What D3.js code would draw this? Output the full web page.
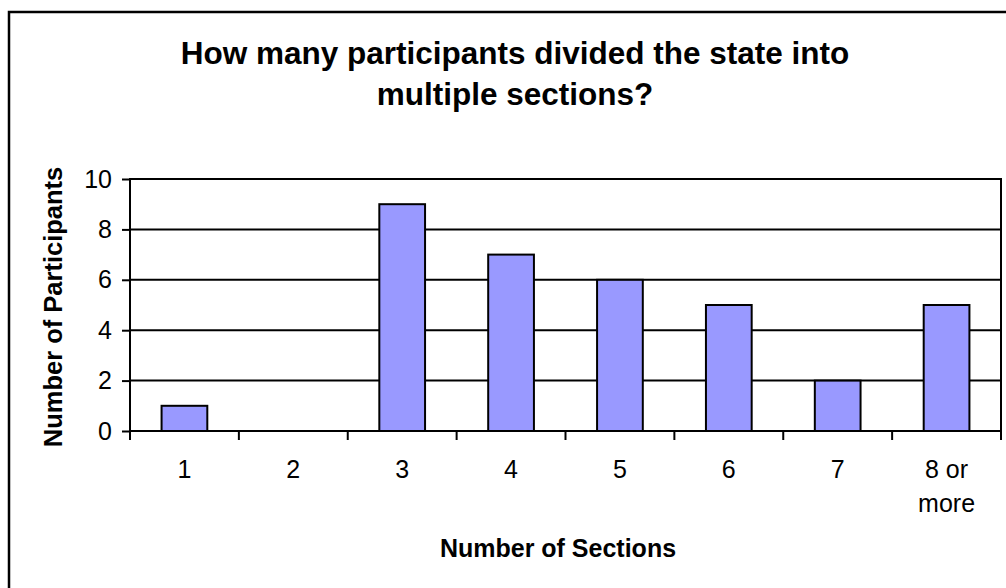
<!DOCTYPE html>
<html>
<head>
<meta charset="utf-8">
<script src="https://cdn.jsdelivr.net/npm/d3@7"></script>
<style>
  body { margin: 0; background: #fff; }
  text { font-family: "Liberation Sans", Arial, sans-serif; fill: #000; }
</style>
</head>
<body>
<script>
var w = 1006;
var h = 588;

// data
var categories = ["1", "2", "3", "4", "5", "6", "7", "8 or more"];
var participants = [1, 0, 9, 7, 6, 5, 2, 5];
var yTicks = [0, 2, 4, 6, 8, 10];
var titleLines = ["How many participants divided the state into", "multiple sections?"];

var plot = {left: 130, right: 1001, top: 179, bottom: 431};

var svg = d3.select("body")
            .append("svg")
            .attr("width", w)
            .attr("height", h);

// outer chart border (runs off the right / bottom edge)
svg.append("rect")
   .attr("x", 9).attr("y", 12)
   .attr("width", 1010).attr("height", 600)
   .attr("fill", "none")
   .attr("stroke", "#000")
   .attr("stroke-width", 2.5);

var x = d3.scaleBand()
          .domain(categories)
          .range([plot.left, plot.right])
          .padding(0);

var y = d3.scaleLinear()
          .domain([0, 10])
          .range([plot.bottom, plot.top]);

// gridlines
svg.selectAll("line.grid")
   .data(yTicks)
   .enter()
   .append("line")
   .attr("class", "grid")
   .attr("x1", plot.left).attr("x2", plot.right)
   .attr("y1", d => y(d)).attr("y2", d => y(d))
   .attr("stroke", "#000")
   .attr("stroke-width", 2);

// bars
var barW = x.bandwidth() * 0.42;
svg.selectAll("rect.bar")
   .data(participants)
   .enter()
   .append("rect")
   .attr("class", "bar")
   .attr("x", (d, i) => x(categories[i]) + (x.bandwidth() - barW) / 2)
   .attr("y", d => y(d))
   .attr("width", barW)
   .attr("height", d => plot.bottom - y(d))
   .attr("fill", d => d > 0 ? "#9999ff" : "none")
   .attr("stroke", d => d > 0 ? "#000" : "none")
   .attr("stroke-width", 2);

// plot border
svg.append("rect")
   .attr("x", plot.left).attr("y", plot.top)
   .attr("width", plot.right - plot.left)
   .attr("height", plot.bottom - plot.top)
   .attr("fill", "none")
   .attr("stroke", "#000")
   .attr("stroke-width", 2);

// y axis
var yAxis = d3.axisLeft(y)
              .tickValues(yTicks)
              .tickSize(8)
              .tickPadding(10);
var gy = svg.append("g")
            .attr("transform", "translate(" + plot.left + ",0)")
            .call(yAxis);
gy.select(".domain").remove();
gy.selectAll(".tick line").attr("stroke", "#000").attr("stroke-width", 2);
gy.selectAll(".tick text")
  .style("font-size", "25px")
  .style("font-family", "Liberation Sans, Arial, sans-serif")
  .attr("fill", "#000");

// x axis: ticks on category boundaries
var bounds = categories.map(c => x(c)).concat([plot.right]);
svg.selectAll("line.xtick")
   .data(bounds)
   .enter()
   .append("line")
   .attr("class", "xtick")
   .attr("x1", d => d).attr("x2", d => d)
   .attr("y1", plot.bottom).attr("y2", plot.bottom + 9)
   .attr("stroke", "#000")
   .attr("stroke-width", 2);

var xl = svg.selectAll("text.xlabel")
   .data(categories)
   .enter()
   .append("text")
   .attr("class", "xlabel")
   .attr("text-anchor", "middle")
   .attr("x", d => x(d) + x.bandwidth() / 2)
   .attr("y", 478)
   .style("font-size", "25px");
xl.each(function(d) {
  var parts = d === "8 or more" ? ["8 or", "more"] : [d];
  var t = d3.select(this);
  parts.forEach((p, i) => {
    t.append("tspan")
     .attr("x", t.attr("x"))
     .attr("dy", i === 0 ? 0 : 34)
     .text(p);
  });
});

// titles
svg.selectAll("text.title")
   .data(titleLines)
   .enter()
   .append("text")
   .attr("class", "title")
   .attr("text-anchor", "middle")
   .attr("x", 515)
   .attr("y", (d, i) => 64 + i * 41)
   .style("font-size", "31.5px")
   .style("font-weight", "bold")
   .text(d => d);

svg.append("text")
   .attr("text-anchor", "middle")
   .attr("x", 558)
   .attr("y", 557)
   .style("font-size", "25px")
   .style("font-weight", "bold")
   .text("Number of Sections");

svg.append("text")
   .attr("text-anchor", "middle")
   .attr("transform", "translate(62," + ((plot.top + plot.bottom) / 2 + 2) + ") rotate(-90)")
   .style("font-size", "25.5px")
   .style("font-weight", "bold")
   .text("Number of Participants");
</script>
</body>
</html>
